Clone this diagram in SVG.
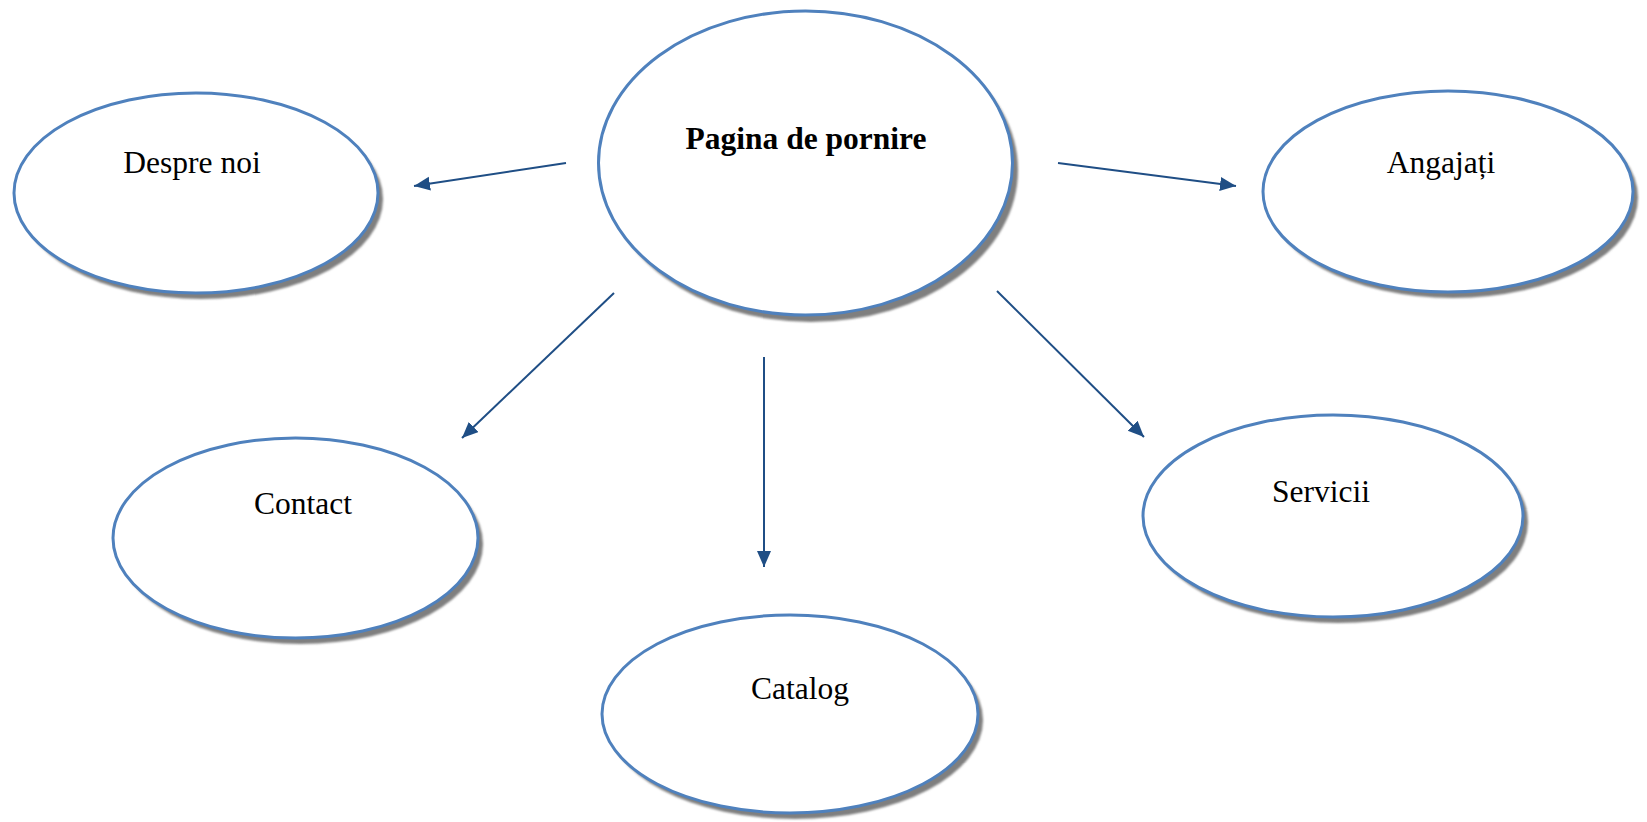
<svg xmlns="http://www.w3.org/2000/svg" width="1647" height="822" viewBox="0 0 1647 822">
<style>
.sh{fill:#7f7f7f;filter:url(#blur)}
.nd{fill:#ffffff;stroke:#4F81BD;stroke-width:3}
.lb{font-family:"Liberation Serif","Times New Roman",serif;font-size:31.5px;fill:#000;text-anchor:middle}
.b{font-weight:bold}
.cn{stroke:#1F4E85;stroke-width:2;fill:none;marker-end:url(#ah)}
</style>
<defs>
<filter id="blur" x="-5%" y="-5%" width="110%" height="110%"><feGaussianBlur stdDeviation="0.8"/></filter>
<marker id="ah" markerUnits="userSpaceOnUse" markerWidth="18" markerHeight="16" refX="16" refY="7" orient="auto">
<path d="M0,0 L16,7 L0,14 Z" fill="#1F4E85"/>
</marker>
</defs>
<rect width="1647" height="822" fill="#ffffff"/>
<g id="connectors">
<line class="cn" x1="566" y1="163" x2="414" y2="186"/>
<line class="cn" x1="1058" y1="163" x2="1236" y2="186"/>
<line class="cn" x1="614" y1="293" x2="462" y2="438"/>
<line class="cn" x1="997" y1="291" x2="1144" y2="437"/>
<line class="cn" x1="764" y1="357" x2="764" y2="567"/>
</g>
<g id="pagina">
<ellipse class="sh" cx="811" cy="170" rx="207" ry="152"/>
<ellipse class="nd" cx="805.5" cy="163" rx="207" ry="152"/>
<text class="lb b" x="806" y="149">Pagina de pornire</text>
</g>
<g id="despre">
<ellipse class="sh" cx="201" cy="199" rx="182" ry="100"/>
<ellipse class="nd" cx="196" cy="193" rx="182" ry="100"/>
<text class="lb" x="192" y="173">Despre noi</text>
</g>
<g id="angajati">
<ellipse class="sh" cx="1453" cy="197.5" rx="185" ry="100.5"/>
<ellipse class="nd" cx="1448" cy="191.5" rx="185" ry="100.5"/>
<text class="lb" x="1441" y="173">Angajați</text>
</g>
<g id="contact">
<ellipse class="sh" cx="300.5" cy="544" rx="182.5" ry="100"/>
<ellipse class="nd" cx="295.5" cy="538" rx="182.5" ry="100"/>
<text class="lb" x="303" y="514">Contact</text>
</g>
<g id="servicii">
<ellipse class="sh" cx="1338" cy="522" rx="190" ry="101"/>
<ellipse class="nd" cx="1333" cy="516" rx="190" ry="101"/>
<text class="lb" x="1321" y="502">Servicii</text>
</g>
<g id="catalog">
<ellipse class="sh" cx="795" cy="720" rx="188" ry="99"/>
<ellipse class="nd" cx="790" cy="714" rx="188" ry="99"/>
<text class="lb" x="800" y="699">Catalog</text>
</g>
</svg>
